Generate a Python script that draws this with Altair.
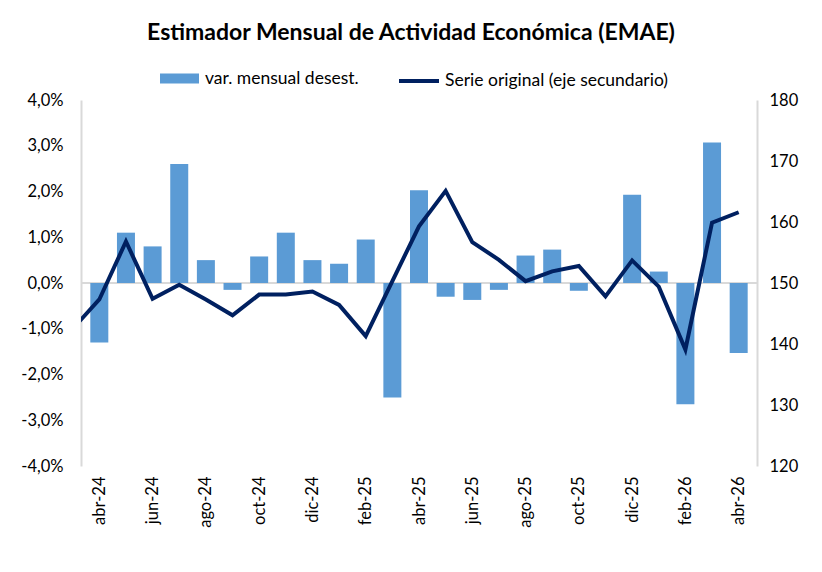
import altair as alt
import pandas as pd

meses = ["abr-24", "may-24", "jun-24", "jul-24", "ago-24", "sep-24", "oct-24",
         "nov-24", "dic-24", "ene-25", "feb-25", "mar-25", "abr-25", "may-25",
         "jun-25", "jul-25", "ago-25", "sep-25", "oct-25", "nov-25", "dic-25",
         "ene-26", "feb-26", "mar-26", "abr-26"]

# variación mensual desestacionalizada (%)
var_mensual = [-1.3, 1.1, 0.8, 2.6, 0.5, -0.15, 0.58, 1.1, 0.5, 0.42, 0.95,
               -2.5, 2.03, -0.3, -0.37, -0.15, 0.6, 0.73, -0.17, 0.0, 1.93,
               0.25, -2.65, 3.07, -1.53]

# serie original (eje secundario); el primer valor es mar-24
serie_original = [142.5, 147.3, 156.8, 147.4, 149.7, 147.3, 144.7, 148.1, 148.1,
                  148.6, 146.4, 141.3, 150.3, 159.3, 165.1, 156.7, 153.8, 150.3,
                  151.9, 152.8, 147.8, 153.7, 149.4, 139.1, 159.9, 161.6]

LBL_BAR = "var. mensual desest."
LBL_LINE = "Serie original (eje secundario)"
FONT = "Lato"
AX_SIZE = 16.5
LEG_SIZE = 17.5

bars_df = pd.DataFrame({"i": list(range(len(meses))), "mes": meses,
                        "var": var_mensual, "serie": LBL_BAR})
line_df = pd.DataFrame({"i": list(range(-1, len(meses))),
                        "valor": serie_original, "serie": LBL_LINE})

label_expr = "[" + ",".join(f"'{m}'" for m in meses) + "][datum.value]"

x_scale = alt.Scale(domain=[-0.5, len(meses) - 0.5], nice=False, zero=False)
x_axis = alt.Axis(values=list(range(0, len(meses), 2)), labelExpr=label_expr,
                  labelAngle=270, labelFontSize=AX_SIZE, labelFont=FONT,
                  labelColor="#000000", labelPadding=10, domain=False,
                  ticks=False, grid=False, title=None, labelOverlap=False,
                  labelBound=False, labelFlush=False)

pct_expr = "replace(replace(format(datum.value, '.1f'), '.', ','), '\u2212', '-') + '%'"

bars = alt.Chart(bars_df).mark_bar(size=18).encode(
    x=alt.X("i:Q", scale=x_scale, axis=x_axis),
    y=alt.Y("var:Q", scale=alt.Scale(domain=[-4, 4], nice=False),
            axis=alt.Axis(values=[-4, -3, -2, -1, 0, 1, 2, 3, 4],
                          labelExpr=pct_expr, labelFontSize=AX_SIZE, labelFont=FONT,
                          labelColor="#000000", labelPadding=18,
                          domainColor="#d9d9d9", domainWidth=2, ticks=False,
                          grid=False, title=None)),
    color=alt.Color("serie:N",
                    scale=alt.Scale(domain=[LBL_BAR], range=["#5b9bd5"]),
                    legend=alt.Legend(orient="none", legendX=79, legendY=-41,
                                      title=None, padding=0,
                                      symbolType="M-1,-0.26H1V0.26H-1Z",
                                      symbolSize=1521, symbolStrokeWidth=0,
                                      labelFontSize=LEG_SIZE, labelFont=FONT,
                                      labelColor="#000000", labelOffset=6,
                                      labelLimit=0)),
)

zero = alt.Chart(bars_df).mark_rule(color="#d9d9d9", strokeWidth=2).encode(
    y=alt.datum(0)
)

line = alt.Chart(line_df).mark_line(strokeWidth=4, clip=True).encode(
    x=alt.X("i:Q", scale=x_scale),
    y=alt.Y("valor:Q", scale=alt.Scale(domain=[120, 180], nice=False, zero=False),
            axis=alt.Axis(orient="right", values=[120, 130, 140, 150, 160, 170, 180],
                          labelFontSize=AX_SIZE, labelFont=FONT, labelColor="#000000",
                          labelPadding=12, domainColor="#d9d9d9", domainWidth=2,
                          ticks=False, grid=False, title=None)),
    stroke=alt.Stroke("serie:N",
                      scale=alt.Scale(domain=[LBL_LINE], range=["#002060"]),
                      legend=alt.Legend(orient="none", legendX=316, legendY=-41,
                                        title=None, padding=0,
                                        symbolType="M-1,0H1", symbolSize=1600,
                                        symbolStrokeWidth=4,
                                        labelFontSize=LEG_SIZE, labelFont=FONT,
                                        labelColor="#000000", labelOffset=4,
                                        labelLimit=0)),
)

chart = alt.layer(alt.layer(zero, bars), line).resolve_scale(
    y="independent"
).properties(
    width=676,
    height=366,
    padding={"left": 81, "top": 100, "right": 65, "bottom": 106},
    autosize=alt.AutoSizeParams(type="none"),
    background="white",
    title=alt.TitleParams("Estimador Mensual de Actividad Económica (EMAE)",
                          font=FONT, fontSize=23, fontWeight="bold",
                          color="#000000", offset=14, dx=-8, anchor="middle"),
).configure_view(stroke=None)

chart.save("out.html", embed_options={"renderer": "svg", "actions": False})
